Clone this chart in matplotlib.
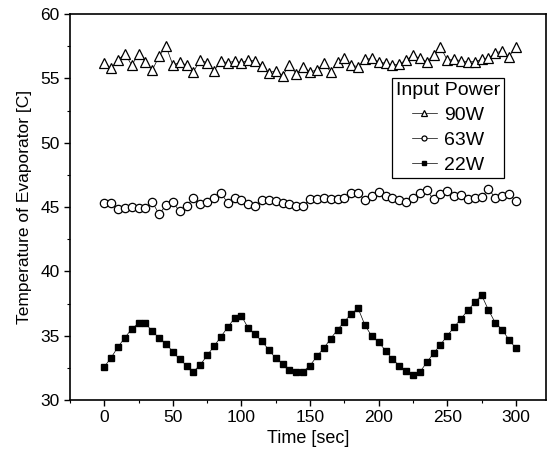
import numpy as np
import matplotlib
matplotlib.use("Agg")
import matplotlib.pyplot as plt
from matplotlib.ticker import MultipleLocator

plt.rcParams['font.family'] = ['Liberation Sans', 'DejaVu Sans']

# time axis, one sample every 5 sec
t = np.arange(0, 301, 5)

# 90W
p90 = [56.21, 55.77, 56.42, 56.93, 56.03, 56.88, 56.29, 55.64, 56.73, 57.50,
       56.03, 56.24, 56.03, 55.52, 56.42, 56.21, 55.59, 56.34, 56.21, 56.34,
       56.21, 56.42, 56.34, 55.98, 55.44, 55.59, 55.21, 56.03, 55.34, 55.85,
       55.52, 55.64, 56.16, 55.52, 56.29, 56.55, 56.03, 55.90, 56.47, 56.55,
       56.29, 56.16, 56.03, 56.11, 56.42, 56.80, 56.55, 56.29, 56.80, 57.45,
       56.42, 56.47, 56.37, 56.29, 56.29, 56.47, 56.55, 56.98, 57.11, 56.68,
       57.45]

# 63W
p63 = [45.29, 45.29, 44.87, 44.92, 44.97, 44.90, 44.90, 45.39, 44.43, 45.16,
       45.36, 44.66, 45.08, 45.73, 45.23, 45.42, 45.73, 46.12, 45.29, 45.68,
       45.55, 45.21, 45.08, 45.52, 45.55, 45.47, 45.34, 45.21, 45.08, 45.08,
       45.62, 45.60, 45.68, 45.60, 45.65, 45.73, 46.12, 46.07, 45.55, 45.86,
       46.20, 45.86, 45.68, 45.55, 45.39, 45.73, 46.12, 46.30, 45.60, 45.99,
       46.25, 45.86, 45.91, 45.65, 45.73, 45.78, 46.38, 45.73, 45.86, 46.04,
       45.47]

# 22W
p22 = [32.58, 33.29, 34.13, 34.84, 35.53, 35.97, 35.97, 35.34, 34.82, 34.39,
       33.74, 33.16, 32.68, 32.21, 32.74, 33.47, 34.18, 34.92, 35.66, 36.37,
       36.53, 35.58, 35.10, 34.55, 33.89, 33.24, 32.82, 32.32, 32.21, 32.21,
       32.68, 33.40, 34.03, 34.76, 35.47, 36.08, 36.71, 37.13, 35.82, 34.95,
       34.50, 33.84, 33.18, 32.68, 32.26, 31.97, 32.16, 32.92, 33.63, 34.29,
       35.00, 35.66, 36.32, 36.97, 37.58, 38.16, 37.00, 36.00, 35.47, 34.68,
       34.03]

fig = plt.figure(figsize=(5.51, 4.59), dpi=100)
ax = fig.add_axes([0.127, 0.1285, 0.864, 0.841])

ax.plot(t, p90, '-', color='black', lw=0.5, marker='^', ms=7.5,
        mfc='white', mec='black', mew=0.9, label='90W')
ax.plot(t, p63, '-', color='black', lw=0.5, marker='o', ms=6,
        mfc='white', mec='black', mew=0.9, label='63W')
ax.plot(t, p22, '-', color='black', lw=0.5, marker='s', ms=5,
        mfc='black', mec='black', label='22W')

ax.set_xlim(-25, 322)
ax.set_ylim(30, 60)
ax.xaxis.set_major_locator(MultipleLocator(50))
ax.xaxis.set_minor_locator(MultipleLocator(25))
ax.yaxis.set_major_locator(MultipleLocator(5))
ax.yaxis.set_minor_locator(MultipleLocator(2.5))
ax.tick_params(which='major', direction='out', length=4, width=1, labelsize=12.5)
ax.tick_params(which='minor', direction='out', length=2.5, width=0.8)
for s in ax.spines.values():
    s.set_linewidth(1.2)

ax.set_xlabel('Time [sec]', fontsize=13, labelpad=3)
ax.set_ylabel('Temperature of Evaporator [C]', fontsize=12.5, labelpad=6)

leg = ax.legend(title='Input Power', loc='upper left',
                bbox_to_anchor=(0.676, 0.834), fontsize=14,
                title_fontsize=14, fancybox=False, edgecolor='black',
                framealpha=1, handlelength=1.3, handletextpad=0.35,
                borderpad=0.2, labelspacing=0.38, markerscale=0.6,
                borderaxespad=0)
leg.get_frame().set_linewidth(0.9)

fig.savefig('out.png', dpi=100)
